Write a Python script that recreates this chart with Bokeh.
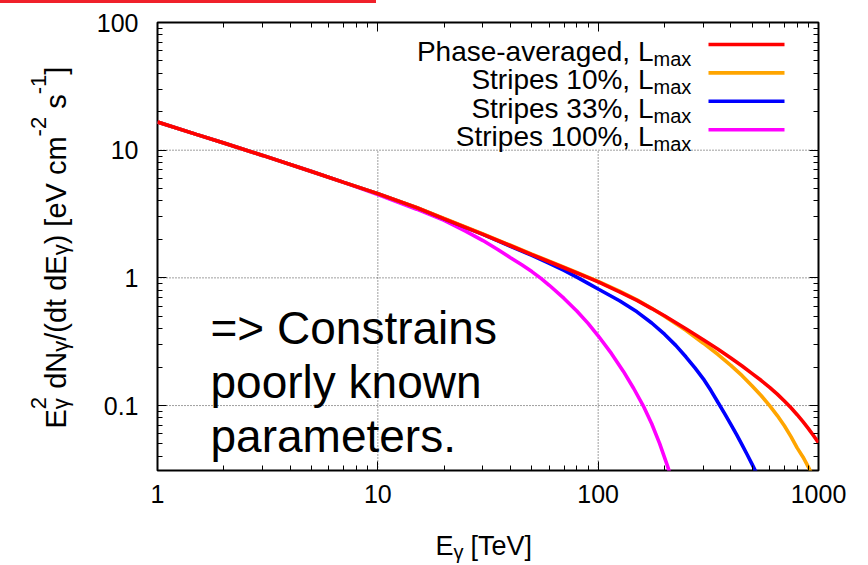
import math
from bokeh.plotting import figure
from bokeh.models import Range1d, FixedTicker, LogAxis, Label, BoxAnnotation, Div
from bokeh.layouts import column, row
from bokeh.embed import file_html
from bokeh.resources import INLINE

# ---------------- data ----------------
E_red = [1, 1.5, 2, 3, 5, 7, 10, 15, 20, 30, 40, 50, 60, 70, 80, 90, 100, 125, 150,
         175, 200, 250, 300, 350, 400, 450, 500, 550, 600, 650, 700, 750, 800, 850,
         900, 950, 1000]
F_red = [16.6, 13.3, 11.4, 9.1, 6.8, 5.6, 4.57, 3.55, 2.9, 2.19, 1.785, 1.52, 1.338,
         1.2, 1.092, 1.005, 0.93, 0.778, 0.666, 0.575, 0.505, 0.40, 0.328, 0.276,
         0.236, 0.204, 0.178, 0.157, 0.1387, 0.1228, 0.1086, 0.096, 0.0848, 0.0748,
         0.0659, 0.058, 0.0512]

E_orange = [1, 1.5, 2, 3, 5, 7, 10, 15, 20, 30, 40, 50, 60, 70, 80, 90, 100, 125, 150,
            175, 200, 250, 300, 350, 400, 450, 500, 550, 600, 650, 700, 750, 800, 850,
            900, 950]
F_orange = [16.6, 13.3, 11.4, 9.1, 6.8, 5.6, 4.57, 3.56, 2.92, 2.21, 1.80, 1.535, 1.35,
            1.212, 1.103, 1.015, 0.94, 0.786, 0.672, 0.578, 0.5, 0.388, 0.308, 0.251,
            0.2065, 0.1714, 0.1424, 0.1193, 0.0999, 0.0835, 0.0695, 0.0571, 0.0466,
            0.0396, 0.033, 0.0272]

E_blue = [1, 1.5, 2, 3, 5, 7, 10, 15, 20, 30, 40, 50, 60, 70, 80, 90, 100, 125, 150,
          175, 200, 225, 250, 275, 300, 325, 350, 375, 400, 425, 450, 475, 500, 525, 550]
F_blue = [16.6, 13.3, 11.4, 9.1, 6.8, 5.6, 4.57, 3.55, 2.9, 2.19, 1.765, 1.5, 1.30,
          1.143, 1.014, 0.906, 0.818, 0.662, 0.542, 0.443, 0.362, 0.296, 0.241, 0.197,
          0.162, 0.131, 0.1056, 0.0865, 0.0713, 0.0591, 0.0492, 0.0412, 0.0346, 0.0292,
          0.0247]

E_magenta = [1, 1.5, 2, 3, 5, 7, 10, 15, 20, 25, 30, 35, 40, 45, 50, 55, 60, 70, 80,
             90, 100, 115, 130, 145, 160, 175, 190, 205, 215]
F_magenta = [16.6, 13.3, 11.4, 9.1, 6.8, 5.6, 4.5, 3.45, 2.82, 2.32, 1.96, 1.67, 1.44,
             1.265, 1.12, 0.99, 0.875, 0.69, 0.55, 0.44, 0.352, 0.255, 0.186, 0.136,
             0.1, 0.072, 0.0505, 0.0348, 0.0272]

series_labels = ["Phase-averaged, L", "Stripes 10%, L", "Stripes 33%, L", "Stripes 100%, L"]
series_sub = "max"
series_colors = ["#ff0000", "#ffa500", "#0000ff", "#ff00ff"]

x_ticks = [1, 10, 100, 1000]
x_tick_labels = ["1", "10", "100", "1000"]
y_ticks = [0.1, 1, 10, 100]
y_tick_labels = ["0.1", "1", "10", "100"]

note_lines = ["=> Constrains", "poorly known", "parameters."]

# ---------------- layout constants (page pixels) ----------------
W, H = 868, 565
TOP_H = 3                 # red rule strip
LEFT_W = 90               # strip holding the rotated y label
BOT_H = 45                # strip holding the x label
MID_H = H - TOP_H - BOT_H
FL, FT, FR, FBOT = 157, 22, 818, 470     # frame edges in page pixels
FONT = "Liberation Sans"


def bare(width, height, xr, yr, top=0, bottom=0):
    f = figure(width=width, height=height, x_range=xr, y_range=yr,
               output_backend="svg", toolbar_location=None,
               x_axis_location=None, y_axis_location=None,
               min_border=0, min_border_top=top, min_border_bottom=bottom)
    f.outline_line_color = None
    f.background_fill_color = "white"
    f.border_fill_color = "white"
    f.xgrid.visible = False
    f.ygrid.visible = False
    return f


# ---------------- main plot ----------------
x_minor = [m * 10 ** k for k in range(0, 3) for m in range(2, 10)]
y_minor = [m * 10.0 ** k for k in range(-2, 2) for m in range(2, 10)]

p = figure(width=W - LEFT_W, height=MID_H, x_axis_type="log", y_axis_type="log",
           x_range=Range1d(1, 1000), y_range=Range1d(0.031, 100),
           output_backend="svg", toolbar_location=None,
           min_border_left=FL - LEFT_W, min_border_top=FT - TOP_H,
           min_border_right=W - FR, min_border_bottom=TOP_H + MID_H - FBOT)
p.background_fill_color = "white"
p.border_fill_color = "white"
p.outline_line_color = "black"
p.outline_line_width = 2
p.xgrid.visible = False
p.ygrid.visible = False


def style_axis(ax, ticks, minor, labels=None, size="25px", standoff=10):
    ax.ticker = FixedTicker(ticks=ticks, minor_ticks=minor)
    ax.axis_line_color = None
    ax.major_tick_in = 9
    ax.major_tick_out = 0
    ax.minor_tick_in = 5
    ax.minor_tick_out = 0
    ax.major_tick_line_color = "black"
    ax.minor_tick_line_color = "black"
    ax.major_tick_line_width = 1
    ax.minor_tick_line_width = 1
    ax.major_label_text_font = FONT
    ax.major_label_text_font_size = size
    ax.major_label_text_color = "black"
    ax.major_label_standoff = standoff
    if labels is not None:
        ax.major_label_overrides = {t: l for t, l in zip(ticks, labels)}


style_axis(p.xaxis[0], x_ticks, x_minor, x_tick_labels, standoff=14)
style_axis(p.yaxis[0], y_ticks, y_minor, y_tick_labels, standoff=19)

top_ax = LogAxis()
style_axis(top_ax, x_ticks, x_minor, ["" for _ in x_ticks], size="0px", standoff=0)
p.add_layout(top_ax, "above")
right_ax = LogAxis()
style_axis(right_ax, y_ticks, y_minor, ["" for _ in y_ticks], size="0px", standoff=0)
p.add_layout(right_ax, "right")

# dotted grid (vertical lines stop below the key)
xs, xe = p.x_range.start, p.x_range.end
ys, ye = p.y_range.start, p.y_range.end
hy = [t for t in y_ticks if ys < t < ye]
p.segment(x0=[xs] * len(hy), y0=hy, x1=[xe] * len(hy), y1=hy,
          line_color="#404040", line_width=1, line_dash="1 2")
vx = [t for t in x_ticks if xs < t < xe]
p.segment(x0=vx, y0=[ys] * len(vx), x1=vx, y1=[10] * len(vx),
          line_color="#404040", line_width=1, line_dash="1 2")

# curves (red on top)
curves = [(E_magenta, F_magenta, series_colors[3]),
          (E_blue, F_blue, series_colors[2]),
          (E_orange, F_orange, series_colors[1]),
          (E_red, F_red, series_colors[0])]
for ex, fy, c in curves:
    p.line(ex, fy, line_color=c, line_width=3.6)


# ---------------- text helpers ----------------
def put(fig, ox, obot, text, cx, cy, size, angle=0.0, align="left"):
    """Place text at page pixel (cx, cy); (ox, obot) = page x of the figure frame's
    left edge and page y of its bottom edge."""
    fig.add_layout(Label(x=cx - ox, y=obot - cy, x_units="screen", y_units="screen",
                         text=text, text_font=FONT, text_font_size=f"{size}px",
                         text_color="black", angle=angle, text_align=align,
                         text_baseline="alphabetic"))


def box(fig, ox, obot, l, r, t, b, color):
    fig.add_layout(BoxAnnotation(left=l - ox, right=r - ox, top=obot - t, bottom=obot - b,
                                 left_units="screen", right_units="screen",
                                 top_units="screen", bottom_units="screen",
                                 fill_color=color, fill_alpha=1.0, line_color=None))


# key
key_L_end = 653
key_base0 = 50.7
key_dy = 28.4
for i, (lab, col) in enumerate(zip(series_labels, series_colors)):
    yb = key_base0 + i * key_dy
    put(p, FL, FBOT, lab, key_L_end, yb, 28, align="right")
    put(p, FL, FBOT, series_sub, key_L_end, yb + 7.5, 20, align="left")
    yc = yb - 6.7
    box(p, FL, FBOT, 708, 784, yc - 1.8, yc + 1.8, col)

# slide note
for i, line in enumerate(note_lines):
    put(p, FL, FBOT, line, 210, 327 + i * 54.3, 46)

# ---------------- left strip: rotated y label ----------------
# its frame is given the same vertical extent as the main frame (22..470)
pl = bare(LEFT_W, MID_H, Range1d(0, LEFT_W), Range1d(0, FBOT - FT),
          top=FT - TOP_H, bottom=TOP_H + MID_H - FBOT)
F_main, F_sub = 29, 22
y0, xb_y = 428, 55
ang = math.pi / 2
SP = 0.278 * F_main
pieces = [("E", "m", 0.667 * F_main),
          ("\u03b3", "s", 0.0),
          ("2", "u", 0.556 * F_sub + SP),
          ("dN", "m", 1.278 * F_main),
          ("\u03b3", "s", 0.5 * F_sub),
          ("/(dt dE", "m", 2.946 * F_main),
          ("\u03b3", "s", 0.5 * F_sub),
          (") [eV cm", "m", 3.723 * F_main),
          ("-2", "u", 0.889 * F_sub + SP),
          ("s", "m", 0.5 * F_main),
          ("-1", "u", 0.889 * F_sub),
          ("]", "m", 0.278 * F_main)]
pos = 0.0
for txt, kind, adv in pieces:
    if kind == "m":
        put(pl, 0, FBOT, txt, xb_y, y0 - pos, F_main, angle=ang)
    elif kind == "s":
        put(pl, 0, FBOT, txt, xb_y + 5, y0 - pos, F_sub, angle=ang)
    else:
        put(pl, 0, FBOT, txt, xb_y - 17, y0 - pos, F_sub, angle=ang)
    pos += adv

# ---------------- bottom strip: x label ----------------
pb = bare(W, BOT_H, Range1d(0, W), Range1d(0, BOT_H))
xb = 545
put(pb, 0, H, "E", 435, xb, 27)
put(pb, 0, H, "\u03b3", 453, xb + 6, 20)
put(pb, 0, H, "[TeV]", 470, xb, 27)

# ---------------- top strip: red rule ----------------
rule = Div(text="", width=376, height=TOP_H, margin=0,
           styles={"background-color": "#f0202a"})

layout = column(rule, row(pl, p, spacing=0), pb, spacing=0)
open("out.html", "w").write(file_html(layout, INLINE))
